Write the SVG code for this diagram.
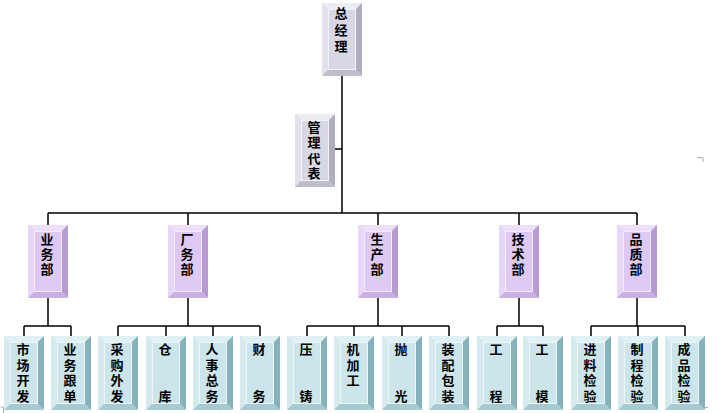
<svg xmlns="http://www.w3.org/2000/svg" xmlns:xlink="http://www.w3.org/1999/xlink" width="723" height="413" viewBox="0 0 723 413">
<style>
  .bg{fill:#ffffff}
  .ln{stroke:#000;stroke-width:1.5;fill:none}
  .mk{stroke:#b0b0b0;stroke-width:1;fill:none}
  text{font-family:"Noto Sans CJK SC","Noto Sans CJK TC",sans-serif;font-size:13px;font-weight:bold;fill:#000;writing-mode:vertical-rl;text-orientation:upright}
  .t4{letter-spacing:2.7px}
  .t3{letter-spacing:2px}
  .tz{letter-spacing:3.7px}
  .tg{letter-spacing:2.3px}
</style>
<defs>
  <g id="boxGrey">
    <rect x="0" y="0" width="40" height="73" fill="#d7d7e6"/>
    <polygon points="0,0 40,0 34,6 6,6" fill="#ececf3"/>
    <polygon points="0,0 6,6 6,67 0,73" fill="#e2e2ec"/>
    <polygon points="40,0 40,73 34,67 34,6" fill="#aeaebf"/>
    <polygon points="0,73 40,73 34,67 6,67" fill="#bdbdcc"/>
    <rect x="6.5" y="6.5" width="27" height="60" fill="none" stroke="#f4f4f8" stroke-width="1"/>
  </g>
  <g id="boxLav">
    <rect x="0" y="0" width="40" height="73" fill="#dec9f4"/>
    <polygon points="0,0 40,0 34,6 6,6" fill="#ecdff9"/>
    <polygon points="0,0 6,6 6,67 0,73" fill="#e6d6f7"/>
    <polygon points="40,0 40,73 34,67 34,6" fill="#b59bcf"/>
    <polygon points="0,73 40,73 34,67 6,67" fill="#c7b0e2"/>
    <rect x="6.5" y="6.5" width="27" height="60" fill="none" stroke="#f3ebfb" stroke-width="1"/>
  </g>
  <g id="boxCyan">
    <rect x="0" y="0" width="40" height="74" fill="#cbe5ea"/>
    <polygon points="0,0 40,0 34,6 6,6" fill="#e0f0f3"/>
    <polygon points="0,0 6,6 6,68 0,74" fill="#d6eaee"/>
    <polygon points="40,0 40,74 34,68 34,6" fill="#86b2bb"/>
    <polygon points="0,74 40,74 34,68 6,68" fill="#a6cad1"/>
    <rect x="6.5" y="6.5" width="27" height="61" fill="none" stroke="#eef7f8" stroke-width="1"/>
  </g>
</defs>
<rect class="bg" x="0" y="0" width="723" height="413"/>

<g id="connectors">
  <path class="ln" d="M342,76 V213 M335,149 H342"/>
  <path class="ln" d="M48,213 H637 M48,213 V225 M188,213 V225 M378,213 V225 M519,213 V225 M637,213 V225"/>
  <path class="ln" d="M48,298 V326 M24,326 H71 M24,326 V336 M71,326 V336"/>
  <path class="ln" d="M188,298 V326 M118,326 H260 M118,326 V336 M166,326 V336 M213,326 V336 M260,326 V336"/>
  <path class="ln" d="M378,298 V326 M307,326 H449 M307,326 V336 M354,326 V336 M402,326 V336 M449,326 V336"/>
  <path class="ln" d="M519,298 V326 M497,326 H543 M497,326 V336 M543,326 V336"/>
  <path class="ln" d="M637,298 V326 M591,326 H685 M591,326 V336 M638,326 V336 M685,326 V336"/>
</g>

<g id="marks">
  <path class="mk" d="M0.5,407 H3.5 V413 M692,407.5 H708 M697,157.5 H703 V162"/>
</g>

<g id="n-zongjingli">
  <use xlink:href="#boxGrey" x="322" y="3"/>
  <text class="tz" x="341" y="6.5">总经理</text>
</g>
<g id="n-guanlidaibiao">
  <use xlink:href="#boxGrey" x="295" y="114"/>
  <text class="tg" x="314" y="120.5">管理代表</text>
</g>

<g id="n-yewubu">
  <use xlink:href="#boxLav" x="28" y="225"/>
  <text class="t3" x="47" y="232.5">业务部</text>
</g>
<g id="n-changwubu">
  <use xlink:href="#boxLav" x="168" y="225"/>
  <text class="t3" x="187" y="232.5">厂务部</text>
</g>
<g id="n-shengchanbu">
  <use xlink:href="#boxLav" x="358" y="225"/>
  <text class="t3" x="377" y="232.5">生产部</text>
</g>
<g id="n-jishubu">
  <use xlink:href="#boxLav" x="499" y="225"/>
  <text class="t3" x="518" y="232.5">技术部</text>
</g>
<g id="n-pinzhibu">
  <use xlink:href="#boxLav" x="617" y="225"/>
  <text class="t3" x="636" y="232.5">品质部</text>
</g>

<g id="n-shichangkaifa">
  <use xlink:href="#boxCyan" x="4" y="336"/>
  <text class="t4" x="23" y="342.5">市场开发</text>
</g>
<g id="n-yewugendan">
  <use xlink:href="#boxCyan" x="51" y="336"/>
  <text class="t4" x="70" y="342.5">业务跟单</text>
</g>
<g id="n-caigouwaifa">
  <use xlink:href="#boxCyan" x="98" y="336"/>
  <text class="t4" x="117" y="342.5">采购外发</text>
</g>
<g id="n-cangku">
  <use xlink:href="#boxCyan" x="146" y="336"/>
  <text x="165" y="342.5">仓<tspan y="389.5">库</tspan></text>
</g>
<g id="n-renshizongwu">
  <use xlink:href="#boxCyan" x="193" y="336"/>
  <text class="t4" x="212" y="342.5">人事总务</text>
</g>
<g id="n-caiwu">
  <use xlink:href="#boxCyan" x="240" y="336"/>
  <text x="259" y="342.5">财<tspan y="389.5">务</tspan></text>
</g>
<g id="n-yazhu">
  <use xlink:href="#boxCyan" x="287" y="336"/>
  <text x="306" y="342.5">压<tspan y="389.5">铸</tspan></text>
</g>
<g id="n-jijiagong">
  <use xlink:href="#boxCyan" x="334" y="336"/>
  <text class="t4" x="353" y="342.5">机加工</text>
</g>
<g id="n-paoguang">
  <use xlink:href="#boxCyan" x="382" y="336"/>
  <text x="401" y="342.5">抛<tspan y="389.5">光</tspan></text>
</g>
<g id="n-zhuangpeibaozhuang">
  <use xlink:href="#boxCyan" x="429" y="336"/>
  <text class="t4" x="448" y="342.5">装配包装</text>
</g>
<g id="n-gongcheng">
  <use xlink:href="#boxCyan" x="477" y="336"/>
  <text x="496" y="342.5">工<tspan y="389.5">程</tspan></text>
</g>
<g id="n-gongmo">
  <use xlink:href="#boxCyan" x="523" y="336"/>
  <text x="542" y="342.5">工<tspan y="389.5">模</tspan></text>
</g>
<g id="n-jinliaojianyan">
  <use xlink:href="#boxCyan" x="571" y="336"/>
  <text class="t4" x="590" y="342.5">进料检验</text>
</g>
<g id="n-zhichengjianyan">
  <use xlink:href="#boxCyan" x="618" y="336"/>
  <text class="t4" x="637" y="342.5">制程检验</text>
</g>
<g id="n-chengpinjianyan">
  <use xlink:href="#boxCyan" x="665" y="336"/>
  <text class="t4" x="684" y="342.5">成品检验</text>
</g>
</svg>
